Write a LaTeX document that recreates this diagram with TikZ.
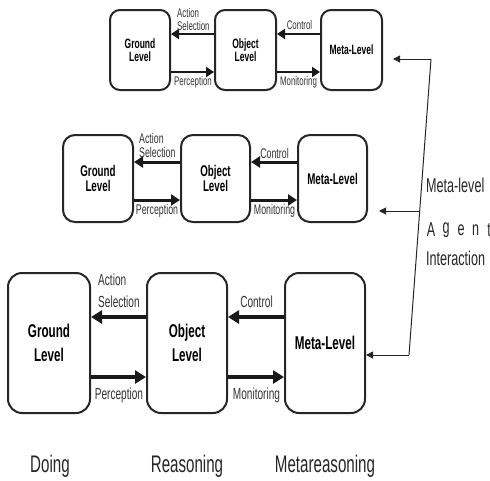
\documentclass[tikz,border=0pt]{standalone}
\usepackage{fontspec}
\setmainfont{Liberation Sans}[FakeStretch=0.63]
\usetikzlibrary{arrows.meta}
\begin{document}
\begin{tikzpicture}[x=1pt,y=-1pt,
  lvbox/.style={draw=black!85, line width=2pt, rounded corners=12pt, inner sep=0pt, align=center, font=\bfseries},
  flowB/.style={line width=4pt, black!90, -{Triangle[length=11pt,width=13pt]}},
  flowM/.style={line width=3pt, black!90, -{Triangle[length=9pt,width=11pt]}},
  flowT/.style={line width=2.6pt, black!90, -{Triangle[length=8pt,width=10pt]}},
  lbl/.style={text=black!80, inner sep=0pt, align=left},
  link/.style={line width=1pt, black!85},
  linkarr/.style={line width=1pt, black!85, -{Triangle[length=7pt,width=7pt]}}
]
\useasboundingbox (0,0) rectangle (490,480);

% bottom row
\node[lvbox, minimum width=82pt, minimum height=140pt, font=\fontsize{18.5}{24}\bfseries, rounded corners=14pt] (G3) at (49,343) {Ground\\Level};
\node[lvbox, minimum width=80pt, minimum height=140pt, font=\fontsize{18.5}{24}\bfseries, rounded corners=14pt] (O3) at (187,343) {Object\\Level};
\node[lvbox, minimum width=80pt, minimum height=140pt, font=\fontsize{18.5}{24}\bfseries, rounded corners=14pt] (M3) at (325,343) {Meta-Level};
\draw[flowB] ([yshift=26pt]O3.west) -- ([yshift=26pt]G3.east);
\draw[flowB] ([yshift=-34pt]G3.east) -- ([yshift=-34pt]O3.west);
\draw[flowB] ([yshift=26pt]M3.west) -- ([yshift=26pt]O3.east);
\draw[flowB] ([yshift=-34pt]O3.east) -- ([yshift=-34pt]M3.west);
\node[lbl, font=\fontsize{16}{22}\selectfont, anchor=west] (as3) at (98,291) {Action\\Selection};
\node[lbl, font=\fontsize{16}{22}\selectfont] (co3) at (256.5,302) {Control};
\node[lbl, font=\fontsize{16}{22}\selectfont] (pe3) at (119,395) {Perception};
\node[lbl, font=\fontsize{16}{22}\selectfont] (mo3) at (256.5,395) {Monitoring};

% middle row
\node[lvbox, minimum width=70pt, minimum height=87pt, font=\fontsize{15.5}{15}\bfseries] (G2) at (98,178.5) {Ground\\Level};
\node[lvbox, minimum width=69pt, minimum height=87pt, font=\fontsize{15.5}{15}\bfseries] (O2) at (215.5,178.5) {Object\\Level};
\node[lvbox, minimum width=69pt, minimum height=87pt, font=\fontsize{15.5}{15}\bfseries] (M2) at (332.5,178.5) {Meta-Level};
\draw[flowM] ([yshift=16.5pt]O2.west) -- ([yshift=16.5pt]G2.east);
\draw[flowM] ([yshift=-21.5pt]G2.east) -- ([yshift=-21.5pt]O2.west);
\draw[flowM] ([yshift=16.5pt]M2.west) -- ([yshift=16.5pt]O2.east);
\draw[flowM] ([yshift=-21.5pt]O2.east) -- ([yshift=-21.5pt]M2.west);
\node[lbl, font=\fontsize{14}{14}\selectfont, anchor=west] (as2) at (139,145) {Action\\Selection};
\node[lbl, font=\fontsize{14}{14}\selectfont] (co2) at (274.5,153) {Control};
\node[lbl, font=\fontsize{14}{14}\selectfont] (pe2) at (157,211) {Perception};
\node[lbl, font=\fontsize{14}{14}\selectfont] (mo2) at (274.5,211) {Monitoring};

% top row
\node[lvbox, minimum width=60pt, minimum height=80pt, font=\fontsize{13.5}{13}\bfseries, rounded corners=10pt] (G1) at (140,50) {Ground\\Level};
\node[lvbox, minimum width=61pt, minimum height=80pt, font=\fontsize{13.5}{13}\bfseries, rounded corners=10pt] (O1) at (245.5,50) {Object\\Level};
\node[lvbox, minimum width=61pt, minimum height=80pt, font=\fontsize{13.5}{13}\bfseries, rounded corners=10pt] (M1) at (351.5,50) {Meta-Level};
\draw[flowT] ([yshift=16pt]O1.west) -- ([yshift=16pt]G1.east);
\draw[flowT] ([yshift=-22pt]G1.east) -- ([yshift=-22pt]O1.west);
\draw[flowT] ([yshift=16pt]M1.west) -- ([yshift=16pt]O1.east);
\draw[flowT] ([yshift=-22pt]O1.east) -- ([yshift=-22pt]M1.west);
\node[lbl, font=\fontsize{12.5}{13}\selectfont, anchor=west] (as1) at (177,19.5) {Action\\Selection};
\node[lbl, font=\fontsize{12.5}{13}\selectfont] (co1) at (299.5,25) {Control};
\node[lbl, font=\fontsize{12.5}{13}\selectfont] (pe1) at (193,82) {Perception};
\node[lbl, font=\fontsize{12.5}{13}\selectfont] (mo1) at (298.5,82) {Monitoring};

% meta-level agent interaction connector
\coordinate (c1) at (431,59);
\coordinate (c2) at (409,355);
\coordinate (cm) at (419.7,211);
\draw[link] (c1) -- (c2);
\draw[linkarr] (c1) -- ([xshift=10pt,yshift=-9pt]M1.east);
\draw[linkarr] (cm) -- ([xshift=11pt,yshift=-32.5pt]M2.east);
\draw[linkarr] (c2) -- ([yshift=-12pt]M3.east);

\node[inner sep=0pt, anchor=west, font=\fontsize{20}{20}\selectfont, text=black!85] (ml) at (426,185) {Meta-level};
\node[inner sep=0pt, font=\fontsize{20}{20}\selectfont, text=black!85] (a1) at (431,230) {A};
\node[inner sep=0pt, font=\fontsize{20}{20}\selectfont, text=black!85] (a2) at (446,230) {g};
\node[inner sep=0pt, font=\fontsize{20}{20}\selectfont, text=black!85] (a3) at (461,230) {e};
\node[inner sep=0pt, font=\fontsize{20}{20}\selectfont, text=black!85] (a4) at (475.5,230) {n};
\node[inner sep=0pt, font=\fontsize{20}{20}\selectfont, text=black!85] (a5) at (489,230) {t};
\node[inner sep=0pt, anchor=west, font=\fontsize{20}{20}\selectfont, text=black!85] (ia) at (426,258) {Interaction};

% bottom captions
\node[inner sep=0pt, font=\fontsize{24}{24}\selectfont, text=black!85] (d1) at (50,466) {Doing};
\node[inner sep=0pt, font=\fontsize{24}{24}\selectfont, text=black!85] (d2) at (187,466) {Reasoning};
\node[inner sep=0pt, font=\fontsize{24}{24}\selectfont, text=black!85] (d3) at (325,466) {Metareasoning};
\end{tikzpicture}
\end{document}
